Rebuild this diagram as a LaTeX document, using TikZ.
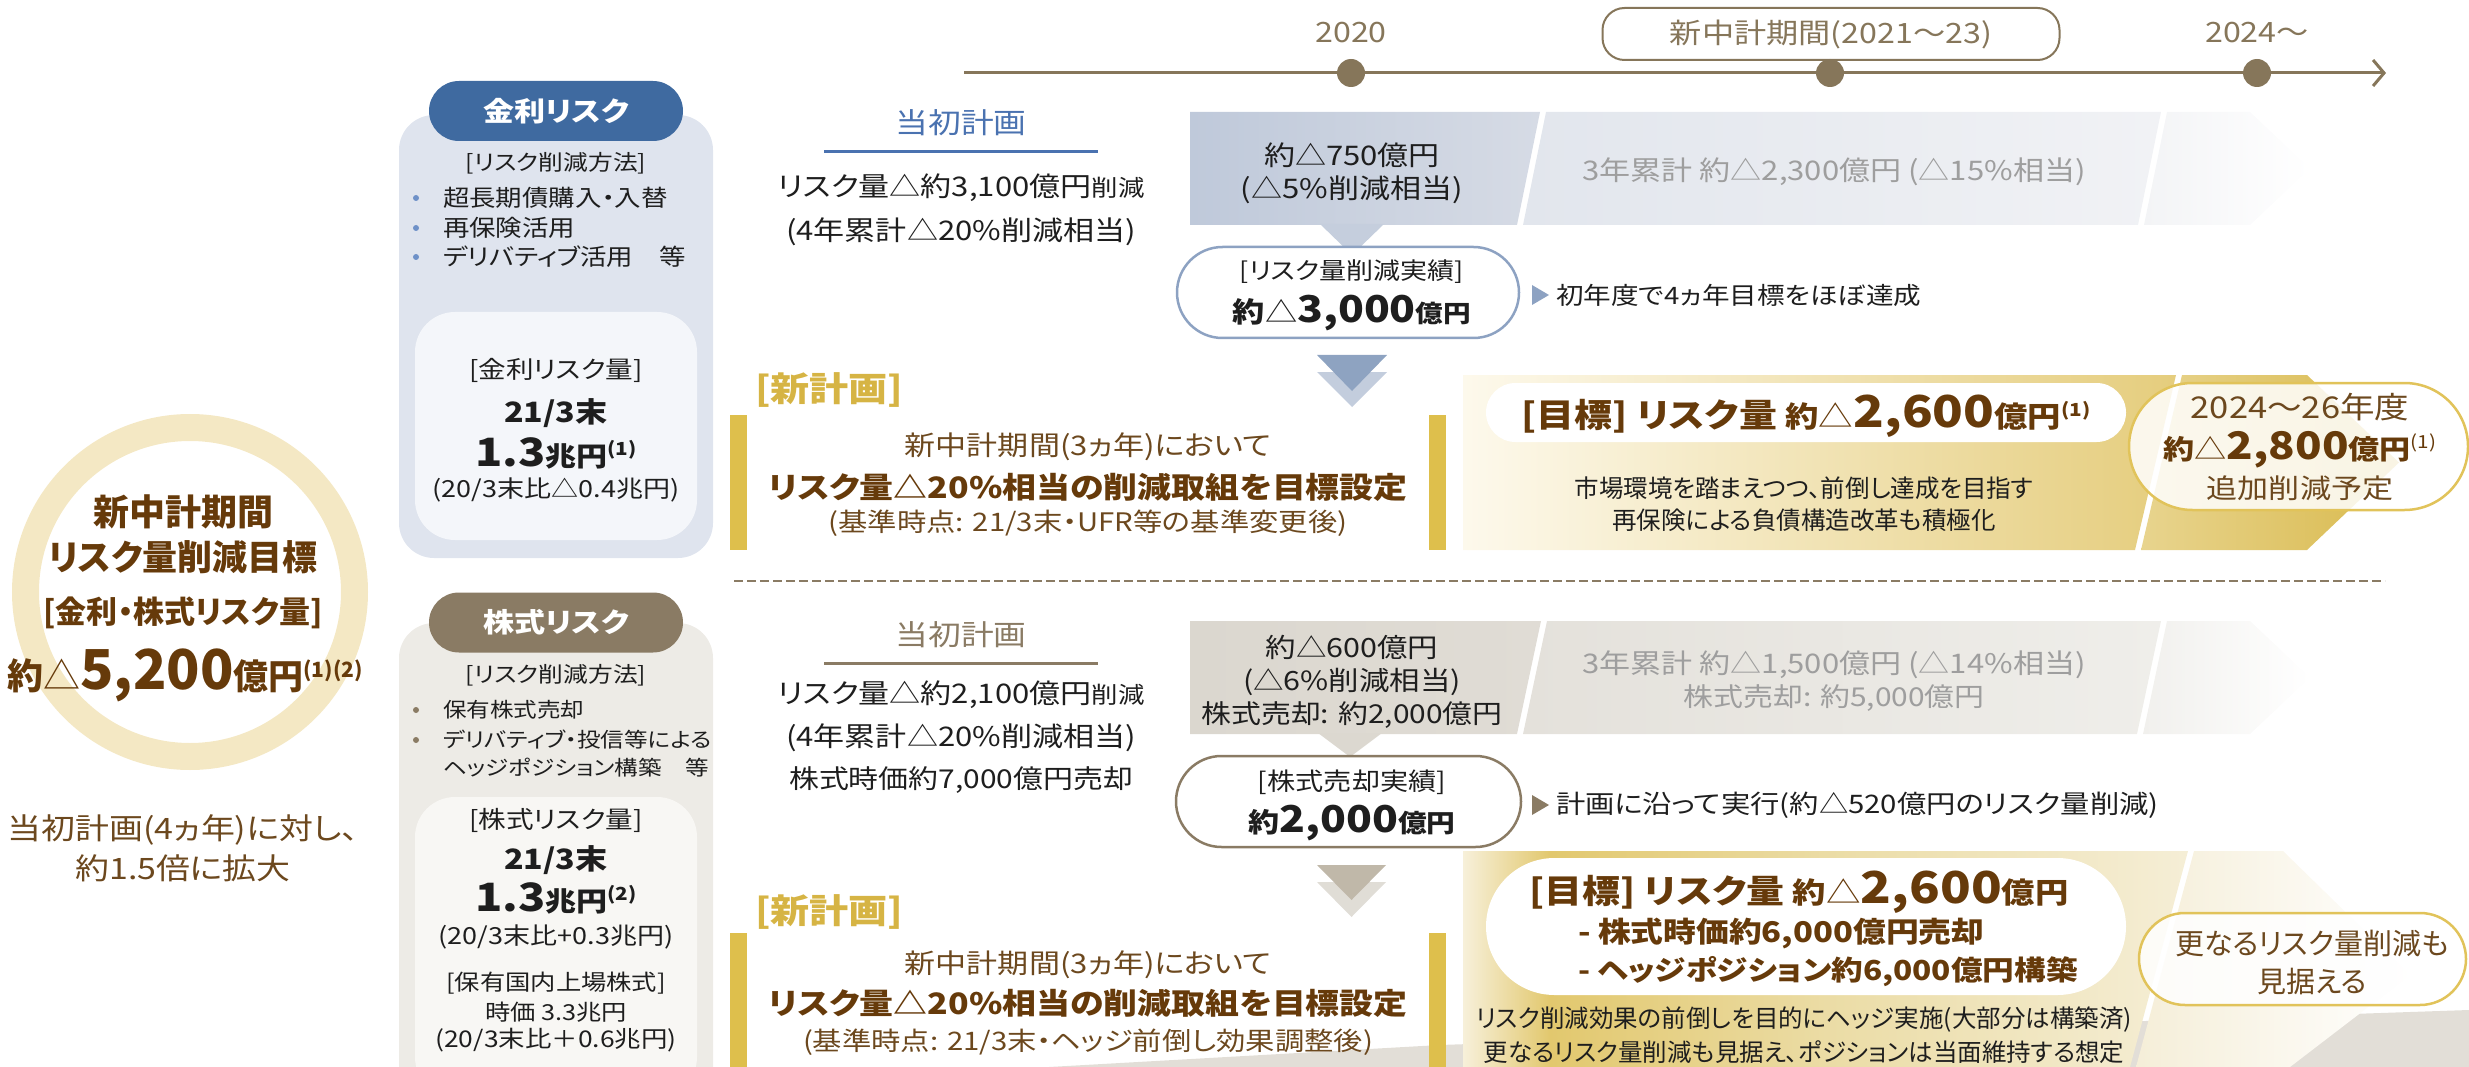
\documentclass[tikz,border=0pt]{standalone}
\usepackage{fontspec}
\setmainfont{Noto Sans CJK JP}[RawFeature=+palt,FakeStretch=1.15]
\newfontfamily\circf{Noto Sans CJK JP}[RawFeature=+palt]
\usetikzlibrary{arrows.meta,shapes.misc}
\newcommand{\myfs}[1]{\fontsize{#1}{#1}\selectfont}
\newcommand{\supn}[1]{\raisebox{11pt}{\fontsize{18}{18}\selectfont(#1)}}
\newcommand{\supc}[1]{\raisebox{12pt}{\fontsize{21}{21}\selectfont(#1)}}
\definecolor{txt}{RGB}{30,30,30}
\definecolor{tlc}{RGB}{134,118,90}
\definecolor{ringc}{RGB}{244,232,196}
\definecolor{brn}{RGB}{102,58,10}
\definecolor{brnr}{RGB}{108,72,30}
\definecolor{hdrblue}{RGB}{63,106,160}
\definecolor{bluebg}{RGB}{223,228,238}
\definecolor{blueinner}{RGB}{244,246,250}
\definecolor{bulblue}{RGB}{110,145,200}
\definecolor{hdrtaupe}{RGB}{138,123,100}
\definecolor{taupebg}{RGB}{237,235,230}
\definecolor{taupeinner}{RGB}{248,247,244}
\definecolor{plblue}{RGB}{74,114,176}
\definecolor{bluebox}{RGB}{141,162,194}
\definecolor{gold}{RGB}{222,191,76}
\definecolor{goldtxt}{RGB}{214,180,68}
\definecolor{goldline}{RGB}{225,195,90}
\definecolor{grtxt}{RGB}{158,158,158}
\definecolor{graybg}{RGB}{226,222,215}
\definecolor{blA}{RGB}{191,201,218}
\definecolor{blB}{RGB}{214,219,229}
\definecolor{blP}{RGB}{197,206,221}
\definecolor{blC}{RGB}{226,230,237}
\definecolor{blD}{RGB}{241,242,245}
\definecolor{blE}{RGB}{243,244,246}
\definecolor{blLt}{RGB}{195,205,221}
\definecolor{blDk}{RGB}{142,163,193}
\definecolor{gyA}{RGB}{219,215,207}
\definecolor{gyB}{RGB}{224,220,213}
\definecolor{gyP}{RGB}{220,216,208}
\definecolor{gyC}{RGB}{228,225,219}
\definecolor{gyD}{RGB}{239,238,234}
\definecolor{gyE}{RGB}{241,240,237}
\definecolor{gyLt}{RGB}{224,221,214}
\definecolor{gyDk}{RGB}{192,184,169}
\definecolor{gtA}{RGB}{253,249,236}
\definecolor{gtB}{RGB}{229,205,125}
\definecolor{gtC}{RGB}{232,212,142}
\definecolor{gtD}{RGB}{217,186,78}
\definecolor{gbA}{RGB}{247,240,218}
\definecolor{gbB}{RGB}{226,200,110}
\definecolor{gbC}{RGB}{235,220,165}
\definecolor{gbD}{RGB}{245,238,214}
\definecolor{gbE}{RGB}{245,238,216}
\pgfdeclarehorizontalshading{goldbot}{100bp}{color(0bp)=(gbA); color(25bp)=(gbA); color(31bp)=(gbB); color(50bp)=(gbC); color(75bp)=(gbD); color(100bp)=(gbD)}
\begin{document}
\begin{tikzpicture}[x=1pt,y=-1pt,
  every node/.style={inner sep=0pt,outer sep=0pt,text=txt},
  dotn/.style={circle,fill=tlc,minimum size=28pt},
  bulb/.style={circle,fill=bulblue,minimum size=6pt},
  bult/.style={circle,fill=hdrtaupe,minimum size=6pt},
  lt/.style={font=\myfs{23},anchor=west},
  lts/.style={font=\myfs{20.5},anchor=west},
  hdr/.style={rounded rectangle,minimum width=254pt,minimum height=60pt,text=white,font=\bfseries\myfs{27}},
  plan/.style={font=\myfs{27}},
  box/.style={font=\myfs{27}},
  newt/.style={font=\bfseries\myfs{34},text=goldtxt,anchor=west},
  nk/.style={font=\myfs{27},text=brnr},
  nkb/.style={font=\bfseries\myfs{29.5},text=brn},
  nks/.style={font=\myfs{25.5},text=brnr},
  gr/.style={font=\myfs{27},text=grtxt},
  gl/.style={font=\circf\myfs{24.5}},
  ov/.style={text=brnr}]
\useasboundingbox (0,0) rectangle (2469,1067);

% background grey shape at the bottom
\fill[graybg] (1049,1067) -- (1440,1045) -- (2469,1010) -- (2469,1067) -- cycle;

% ---------------- timeline ----------------
\coordinate (tlS) at (964,73);
\coordinate (tlE) at (2386,73);
\draw[tlc,line width=3pt,-{Straight Barb[length=11pt,width=26pt]}] (tlS) -- (tlE);
\node[draw=tlc,line width=2pt,rounded corners=22pt,minimum width=457pt,minimum height=52pt,fill=white,font=\myfs{28},text=tlc] (per) at (1831,34) {新中計期間(2021～23)};
\node[dotn] (d1) at (1351,73) {};
\node[dotn] (d2) at (1830,73) {};
\node[dotn] (d3) at (2257,73) {};
\node[font=\myfs{28},text=tlc] (y1) at (1351,33) {2020};
\node[font=\myfs{28},text=tlc] (y3) at (2257,33) {2024～};

% ---------------- circle ----------------
\node[circle,draw=ringc,line width=27pt,minimum size=329pt] (ring) at (190,592) {};
\node[font=\circf\bfseries\myfs{36},text=brn] (c1) at (183,512) {新中計期間};
\node[font=\circf\bfseries\myfs{35},text=brn] (c2) at (183,557) {リスク量削減目標};
\node[font=\circf\bfseries\myfs{31},text=brn] (c3) at (183,613) {[金利・株式リスク量]};
\node[font=\circf\bfseries,text=brn] (c4) at (185,675) {{\myfs{36}約}{\mdseries\myfs{37}△}{\myfs{55}5,200}{\myfs{35}億円}\supc{1}\supc{2}};
\node[font=\myfs{29.5},text=brnr] (c5) at (183,830) {当初計画(4ヵ年)に対し、};
\node[font=\myfs{29.5},text=brnr] (c6) at (183,868) {約1.5倍に拡大};

% ---------------- interest rate risk box ----------------
\node[fill=bluebg,rounded corners=35pt,minimum width=314pt,minimum height=443pt] (kbox) at (556,336.5) {};
\node[hdr,fill=hdrblue] (khdr) at (556,111) {金利リスク};
\node[font=\myfs{21.5}] (kmeth) at (556,163) {[リスク削減方法]};
\node[bulb] (kb1) at (416,198) {};
\node[bulb] (kb2) at (416,228) {};
\node[bulb] (kb3) at (416,257) {};
\node[lt] (kl1) at (443,198) {超長期債購入・入替};
\node[lt] (kl2) at (443,228) {再保険活用};
\node[lt] (kl3) at (443,257) {デリバティブ活用　等};
\node[fill=blueinner,rounded corners=40pt,minimum width=282pt,minimum height=228pt] (kin) at (556,426) {};
\node[font=\myfs{24}] (kq1) at (556,370) {[金利リスク量]};
\node[font=\bfseries\myfs{28}] (kq2) at (556,413) {21/3末};
\node[font=\bfseries] (kq3) at (556,453) {{\myfs{39}1.3}{\myfs{27}兆円}\supn{1}};
\node[font=\myfs{23.5}] (kq4) at (556,490) {(20/3末比△0.4兆円)};

% ---------------- equity risk box ----------------
\node[fill=taupebg,rounded corners=35pt,minimum width=314pt,minimum height=480pt] (sbox) at (556,863) {};
\node[hdr,fill=hdrtaupe] (shdr) at (556,622.5) {株式リスク};
\node[font=\myfs{21.5}] (smeth) at (556,675) {[リスク削減方法]};
\node[bult] (sb1) at (416,710) {};
\node[bult] (sb2) at (416,740) {};
\node[lts] (sl1) at (443,710) {保有株式売却};
\node[lts] (sl2) at (443,740) {デリバティブ・投信等による};
\node[lts] (sl3) at (443,768) {ヘッジポジション構築　等};
\node[fill=taupeinner,rounded corners=40pt,minimum width=282pt,minimum height=300pt] (sin) at (556,947) {};
\node[font=\myfs{24}] (sq1) at (556,820) {[株式リスク量]};
\node[font=\bfseries\myfs{28}] (sq2) at (556,860) {21/3末};
\node[font=\bfseries] (sq3) at (556,898) {{\myfs{39}1.3}{\myfs{27}兆円}\supn{2}};
\node[font=\myfs{23.5}] (sq4) at (556,937) {(20/3末比+0.3兆円)};
\node[font=\myfs{22}] (sq5) at (556,983) {[保有国内上場株式]};
\node[font=\myfs{22}] (sq6) at (556,1012) {時価 3.3兆円};
\node[font=\myfs{23}] (sq7) at (556,1040) {(20/3末比＋0.6兆円)};

% ---------------- top section: original plan ----------------
\node[font=\myfs{28.5},text=plblue] (kp) at (961,123) {当初計画};
\coordinate (ku1) at (824,152);
\coordinate (ku2) at (1098,152);
\draw[plblue,line width=3pt] (ku1) -- (ku2);
\node[plan] (kp1) at (961,188) {リスク量△約3,100億円{\myfs{23}削減}};
\node[plan] (kp2) at (961,232) {(4年累計△20\%削減相当)};

% blue band
\shade[left color=blA,right color=blB] (1190,112) -- (1540,112) -- (1517,225) -- (1190,225) -- cycle;
\fill[blP] (1320,224) -- (1384,224) -- (1352,255) -- cycle;
\shade[left color=blC,right color=blD] (1546,112) -- (2161,112) -- (2138,225) -- (1523,225) -- cycle;
\shade[left color=blE,right color=white] (2167,112) -- (2250,112) -- (2310,168.5) -- (2250,225) -- (2144,225) -- cycle;
\node[box] (kv1) at (1352,155) {約△750億円};
\node[box] (kv2) at (1352,190) {(△5\%削減相当)};
\node[gr] (k3y) at (1834,172) {3年累計 約△2,300億円 (△15\%相当)};

\node[rounded rectangle,draw=bluebox,line width=2.5pt,fill=white,minimum width=342pt,minimum height=91pt] (kact) at (1348,292.5) {};
\node[font=\myfs{23.5}] (ka1) at (1352,272) {[リスク量削減実績]};
\node[font=\bfseries] (ka2) at (1352,313) {{\myfs{28}約}{\mdseries\myfs{28}△}{\myfs{37}3,000}{\myfs{24}億円}};
\fill[bluebox] (1532,285) -- (1549,295) -- (1532,305) -- cycle;
\node[font=\myfs{24},anchor=west] (kn) at (1556,295) {初年度で4ヵ年目標をほぼ達成};

\fill[blLt] (1317,372) -- (1387,372) -- (1352,407) -- cycle;
\fill[blDk] (1317,355) -- (1387,355) -- (1352,391) -- cycle;

% new plan (top)
\node[newt] (kn0) at (755,390) {[新計画]};
\fill[gold] (730,415) rectangle (747,550);
\fill[gold] (1429,415) rectangle (1446,550);
\node[nk] (kn1) at (1088,447) {新中計期間(3ヵ年)において};
\node[nkb] (kn2) at (1088,487) {リスク量△20\%相当の削減取組を目標設定};
\node[nks] (kn3) at (1088,523) {(基準時点: 21/3末・UFR等の基準変更後)};

% gold band (top)
\shade[left color=gtA,right color=gtB] (1463,375) -- (2176,375) -- (2135,550) -- (1463,550) -- cycle;
\shade[left color=gtC,right color=gtD] (2182,375) -- (2307,375) -- (2399,462.5) -- (2307,550) -- (2141,550) -- cycle;
\node[rounded rectangle,fill=white,minimum width=640pt,minimum height=59pt] (kgoal) at (1806,412.5) {};
\node[font=\bfseries,text=brn] (kg1) at (1806,416) {{\myfs{33}[目標] リスク量 }{\myfs{29}約}{\mdseries\myfs{30}△}{\myfs{44}2,600}{\myfs{29}億円}\supn{1}};
\node[gl] (kg2) at (1804,488) {市場環境を踏まえつつ、前倒し達成を目指す};
\node[gl] (kg3) at (1804,520) {再保険による負債構造改革も積極化};
\node[rounded rectangle,draw=goldline,line width=2.5pt,fill=white,fill opacity=0.85,minimum width=339pt,minimum height=127pt] (koval) at (2298.5,446.5) {};
\node[ov,font=\myfs{30}] (ko1) at (2300,407) {2024～26年度};
\node[text=brn] (ko2) at (2300,450) {{\bfseries\myfs{27}約}{\myfs{28}△}{\bfseries\myfs{38}2,800}{\bfseries\myfs{27}億円}\supn{1}};
\node[ov,font=\myfs{27}] (ko3) at (2300,488) {追加削減予定};

% separator
\coordinate (ds1) at (734,581);
\coordinate (ds2) at (2385,581);
\draw[hdrtaupe,line width=2.5pt,dash pattern=on 9pt off 4pt] (ds1) -- (ds2);

% ---------------- bottom section: original plan ----------------
\node[font=\myfs{28.5},text=hdrtaupe] (sp) at (961,635) {当初計画};
\coordinate (su1) at (824,663);
\coordinate (su2) at (1098,663);
\draw[hdrtaupe,line width=3pt] (su1) -- (su2);
\node[plan] (sp1) at (961,695) {リスク量△約2,100億円{\myfs{23}削減}};
\node[plan] (sp2) at (961,738) {(4年累計△20\%削減相当)};
\node[font=\myfs{26}] (sp3) at (961,780) {株式時価約7,000億円売却};

% grey band
\shade[left color=gyA,right color=gyB] (1190,621) -- (1541,621) -- (1517,734) -- (1190,734) -- cycle;
\fill[gyP] (1318,733) -- (1382,733) -- (1350,757) -- cycle;
\shade[left color=gyC,right color=gyD] (1547,621) -- (2161,621) -- (2137,734) -- (1523,734) -- cycle;
\shade[left color=gyE,right color=white] (2167,621) -- (2250,621) -- (2310,677.5) -- (2250,734) -- (2143,734) -- cycle;
\node[font=\myfs{26.5}] (sv1) at (1352,647) {約△600億円};
\node[font=\myfs{26.5}] (sv2) at (1352,682) {(△6\%削減相当)};
\node[font=\myfs{26}] (sv3) at (1352,715) {株式売却: 約2,000億円};
\node[gr] (s3y) at (1834,665) {3年累計 約△1,500億円 (△14\%相当)};
\node[gr,font=\myfs{26}] (s3z) at (1834,698) {株式売却: 約5,000億円};

\node[rounded rectangle,draw=hdrtaupe,line width=2.5pt,fill=white,minimum width=345pt,minimum height=91pt] (sact) at (1348.5,801.5) {};
\node[font=\myfs{24.5}] (sa1) at (1352,782) {[株式売却実績]};
\node[font=\bfseries] (sa2) at (1352,823) {{\myfs{27}約}{\myfs{37}2,000}{\myfs{25}億円}};
\fill[hdrtaupe] (1532,795) -- (1549,805) -- (1532,815) -- cycle;
\node[font=\myfs{25.5},anchor=west] (sn) at (1556,805) {計画に沿って実行(約△520億円のリスク量削減)};

\fill[gyLt] (1317,882) -- (1386,882) -- (1351.5,917) -- cycle;
\fill[gyDk] (1317,865) -- (1386,865) -- (1351.5,900) -- cycle;

% new plan (bottom)
\node[newt] (sn0) at (755,912) {[新計画]};
\fill[gold] (730,933) rectangle (747,1067);
\fill[gold] (1429,933) rectangle (1446,1067);
\node[nk] (sn1) at (1088,965) {新中計期間(3ヵ年)において};
\node[nkb] (sn2) at (1088,1003) {リスク量△20\%相当の削減取組を目標設定};
\node[nks] (sn3) at (1088,1042) {(基準時点: 21/3末・ヘッジ前倒し効果調整後)};

% gold band (bottom)
\shade[shading=goldbot] (1463,851) -- (2188,851) -- (2130,1067) -- (1463,1067) -- cycle;
\shade[left color=gbE,right color=white] (2194,851) -- (2283,851) -- (2410,975) -- (2290,1067) -- (2136,1067) -- cycle;
\node[rounded rectangle,fill=white,minimum width=640pt,minimum height=137pt] (sgoal) at (1806,926.5) {};
\node[font=\bfseries,text=brn,anchor=west] (sg1) at (1529,892) {{\myfs{33}[目標] リスク量 }{\myfs{29}約}{\mdseries\myfs{30}△}{\myfs{44}2,600}{\myfs{29}億円}};
\node[font=\bfseries\myfs{28.5},text=brn,anchor=west] (sg2) at (1578,933) {- 株式時価約6,000億円売却};
\node[font=\bfseries\myfs{27.5},text=brn,anchor=west] (sg3) at (1578,972) {- ヘッジポジション約6,000億円構築};
\node[gl] (sg4) at (1804,1020) {リスク削減効果の前倒しを目的にヘッジ実施(大部分は構築済)};
\node[gl] (sg5) at (1804,1052) {更なるリスク量削減も見据え、ポジションは当面維持する想定};
\node[rounded rectangle,draw=goldline,line width=2.5pt,fill=white,fill opacity=0.85,minimum width=327pt,minimum height=92pt] (soval) at (2302.5,959) {};
\node[ov,font=\circf\myfs{29}] (so1) at (2312,943) {更なるリスク量削減も};
\node[ov,font=\circf\myfs{29}] (so2) at (2312,982) {見据える};
\end{tikzpicture}
\end{document}
